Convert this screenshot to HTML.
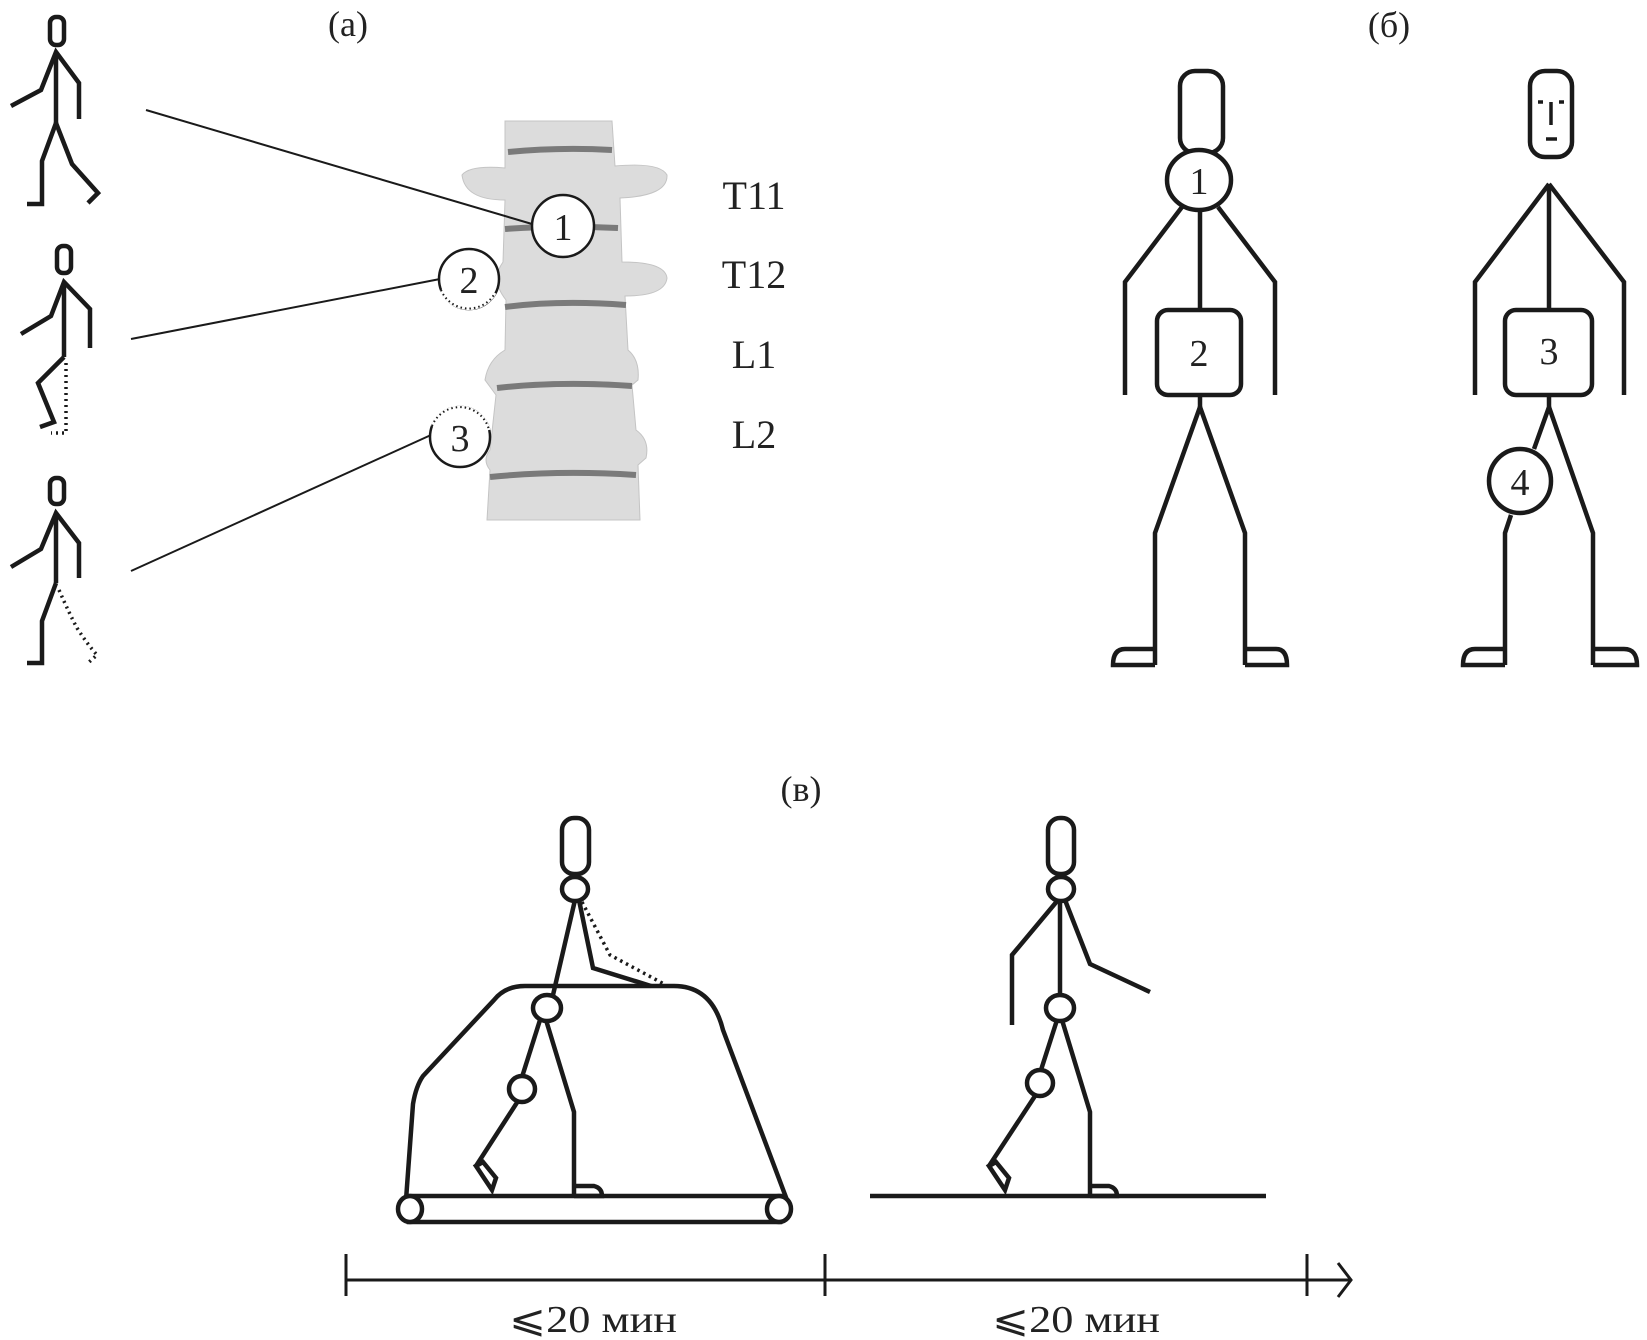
<!DOCTYPE html>
<html><head><meta charset="utf-8"><style>
html,body{margin:0;padding:0;background:#fff;}
svg{display:block;}
text{font-family:"Liberation Serif","DejaVu Serif",serif;fill:#222;}
</style></head><body>
<svg width="1647" height="1340" viewBox="0 0 1647 1340" xmlns="http://www.w3.org/2000/svg">
<g fill="none" stroke="#1a1a1a" stroke-width="4.5" stroke-linejoin="miter" stroke-linecap="butt">
<!-- (a) figures -->
<rect x="50" y="17" width="14" height="28" rx="6"/>
<polyline points="11,106 41,90 56,52 79,83 79,119"/>
<line x1="56" y1="52" x2="56" y2="123"/>
<polyline points="27,204 42,204 42,161 56,123 72,164 98,193 88,203"/>

<rect x="57" y="246" width="14" height="27" rx="6"/>
<polyline points="21,334 51,316 64,282 90,309 90,348"/>
<line x1="64" y1="282" x2="64" y2="357"/>
<polyline points="64,357 38,383 54,422 40,427"/>
<polyline points="66,363 66,433 51,433" stroke-dasharray="2,4" stroke-width="3.5"/>

<rect x="50" y="478" width="14" height="26" rx="6"/>
<polyline points="11,567 41,549 56,513 79,543 79,578"/>
<line x1="56" y1="513" x2="56" y2="583"/>
<polyline points="27,663 42,663 42,621 56,583"/>
<path d="M59,590 Q70,615 77,628 Q88,645 97,655 L88,663" stroke-dasharray="2,4" stroke-width="3.5"/>
</g>

<!-- spine -->
<g>
<path d="M462,175 Q470,165 505,168 L505,121 L612,121 L615,166 Q660,162 667,175 Q668,196 620,198 L622,262 Q665,262 667,278 Q665,296 625,296 L628,350 Q640,360 638,380 L632,385 L636,430 Q650,440 646,458 L638,465 L640,520 L487,520 L490,470 Q482,460 490,450 L496,395 L485,380 Q488,360 505,350 L506,300 Q490,280 503,262 L505,200 Q465,200 462,175 Z" fill="#dcdcdc" stroke="#c4c4c4" stroke-width="1"/>
<g stroke="#7a7a7a" stroke-width="6" fill="none">
<path d="M508,152 Q560,147 612,150"/>
<path d="M505,229 Q560,225 618,228"/>
<path d="M505,307 Q560,300 626,305"/>
<path d="M497,388 Q560,381 632,386"/>
<path d="M490,477 Q560,470 636,475"/>
</g>
</g>

<g stroke="#1a1a1a" stroke-width="2" fill="none">
<line x1="146" y1="110" x2="532" y2="224"/>
<line x1="131" y1="339" x2="440" y2="279"/>
<line x1="131" y1="571" x2="431" y2="435"/>
</g>
<g stroke="#1a1a1a" stroke-width="2.5" fill="#fff">
<circle cx="563" cy="226" r="31"/>
<circle cx="469" cy="279" r="30"/>
<circle cx="460" cy="437" r="30"/>
</g>
<g stroke="#fff" stroke-width="3" fill="none">
<path d="M441,290 A30,30 0 0 0 495,293"/>
<path d="M432,426 A30,30 0 0 1 489,430"/>
</g>
<g stroke="#1a1a1a" stroke-width="2" fill="none" stroke-dasharray="1.5,3">
<path d="M441,290 A30,30 0 0 0 495,293"/>
<path d="M432,426 A30,30 0 0 1 489,430"/>
</g>
<g font-size="38" text-anchor="middle">
<text x="563" y="240">1</text>
<text x="469" y="293">2</text>
<text x="460" y="451">3</text>
<text x="348" y="36" font-size="36">(a)</text>
<text x="754" y="209" font-size="40">T11</text>
<text x="754" y="288" font-size="40">T12</text>
<text x="754" y="368" font-size="40">L1</text>
<text x="754" y="448" font-size="40">L2</text>
<text x="1389" y="37" font-size="36">(б)</text>
</g>

<!-- (б) -->
<g fill="none" stroke="#1a1a1a" stroke-width="4.5">
<rect x="1180" y="71" width="43" height="82" rx="15"/>
<line x1="1200" y1="211" x2="1200" y2="310"/>
<polyline points="1182,207 1125,282 1125,395"/>
<polyline points="1218,207 1275,282 1275,395"/>
<polyline points="1155,665 1155,533 1200,407 1245,533 1245,665"/>
<line x1="1200" y1="395" x2="1200" y2="407"/>
<path d="M1155,649 L1125,649 Q1113,649 1113,665 L1155,665"/>
<path d="M1245,649 L1276,649 Q1287,649 1287,665 L1245,665"/>
</g>
<ellipse cx="1199" cy="180" rx="32" ry="30" fill="#fff" stroke="#1a1a1a" stroke-width="4.5"/>
<rect x="1157" y="310" width="84" height="85" rx="11" fill="#fff" stroke="#1a1a1a" stroke-width="4.5"/>

<g fill="none" stroke="#1a1a1a" stroke-width="4.5">
<rect x="1530" y="71" width="42" height="86" rx="15"/>
<line x1="1538" y1="102" x2="1543" y2="102" stroke-width="3.5"/>
<line x1="1559" y1="102" x2="1564" y2="102" stroke-width="3.5"/>
<line x1="1551" y1="102" x2="1551" y2="125" stroke-width="3.5"/>
<line x1="1546" y1="139" x2="1557" y2="139" stroke-width="3.5"/>
<line x1="1549" y1="184" x2="1549" y2="310"/>
<polyline points="1549,184 1475,282 1475,395"/>
<polyline points="1549,184 1624,282 1624,395"/>
<polyline points="1549,395 1549,407 1534,449"/>
<polyline points="1511,515 1505,533 1505,665"/>
<polyline points="1549,407 1593,533 1593,665"/>
<path d="M1505,649 L1475,649 Q1463,649 1463,665 L1505,665"/>
<path d="M1593,649 L1624,649 Q1637,649 1637,665 L1593,665"/>
</g>
<rect x="1505" y="310" width="87" height="85" rx="11" fill="#fff" stroke="#1a1a1a" stroke-width="4.5"/>
<ellipse cx="1520" cy="481" rx="31" ry="32" fill="#fff" stroke="#1a1a1a" stroke-width="4.5"/>
<g font-size="38" text-anchor="middle">
<text x="1199" y="194">1</text>
<text x="1199" y="366">2</text>
<text x="1549" y="364">3</text>
<text x="1520" y="495">4</text>
<text x="801" y="801" font-size="36">(в)</text>
</g>

<!-- (в) -->
<g fill="none" stroke="#1a1a1a" stroke-width="4.5">
<!-- treadmill frame -->
<path d="M406,1200 L413,1104 Q416,1086 423,1076 L494,1000 Q505,986 525,986 L674,986 Q712,986 723,1030 L787,1200"/>
<rect x="409" y="1196" width="371" height="26" fill="#fff"/>
<ellipse cx="410" cy="1209" rx="12" ry="13" fill="#fff"/>
<ellipse cx="779" cy="1209" rx="12" ry="13" fill="#fff"/>
<!-- left figure -->
<rect x="562" y="818" width="27" height="56" rx="12"/>
<line x1="575" y1="900" x2="553" y2="995"/>
<polyline points="579,900 593,968 651,986"/>
<polyline points="582,902 610,955 664,984" stroke-dasharray="2.5,4" stroke-width="3.5"/>
<line x1="540" y1="1020" x2="522" y2="1077"/>
<polyline points="518,1101 476,1166"/>
<path d="M476,1166 L483,1162 L496,1178 L492,1190 Z"/>
<polyline points="546,1020 574,1112 574,1196"/>
<path d="M574,1186 L594,1186 Q602,1188 602,1196 L574,1196"/>
<!-- right figure -->
<rect x="1048" y="818" width="26" height="56" rx="12"/>
<line x1="1060" y1="900" x2="1060" y2="995"/>
<polyline points="1058,900 1012,955 1012,1025"/>
<polyline points="1065,900 1090,964 1150,992"/>
<line x1="1057" y1="1020" x2="1041" y2="1070"/>
<polyline points="1035,1096 989,1166"/>
<path d="M989,1166 L996,1162 L1009,1178 L1005,1190 Z"/>
<polyline points="1062,1020 1090,1112 1090,1196"/>
<path d="M1090,1186 L1109,1186 Q1117,1188 1117,1196 L1090,1196"/>
<line x1="870" y1="1196" x2="1266" y2="1196"/>
</g>
<g fill="#fff" stroke="#1a1a1a" stroke-width="4.5">
<ellipse cx="575" cy="889" rx="13" ry="12"/>
<ellipse cx="547" cy="1008" rx="14" ry="13"/>
<ellipse cx="522" cy="1089" rx="13" ry="13"/>
<ellipse cx="1061" cy="889" rx="13" ry="12"/>
<ellipse cx="1060" cy="1008" rx="14" ry="13"/>
<ellipse cx="1040" cy="1083" rx="13" ry="13"/>
</g>

<!-- axis -->
<g fill="none" stroke="#1a1a1a" stroke-width="3">
<line x1="346" y1="1280" x2="1350" y2="1280"/>
<line x1="346" y1="1254" x2="346" y2="1296"/>
<line x1="825" y1="1254" x2="825" y2="1296"/>
<line x1="1307" y1="1254" x2="1307" y2="1296"/>
<polyline points="1338,1263 1351,1280 1338,1297"/>
</g>
<g font-size="38" text-anchor="middle">
<text x="593" y="1332" textLength="168" lengthAdjust="spacingAndGlyphs">⩽20 мин</text>
<text x="1076" y="1332" textLength="168" lengthAdjust="spacingAndGlyphs">⩽20 мин</text>
</g>
</svg>
</body></html>
